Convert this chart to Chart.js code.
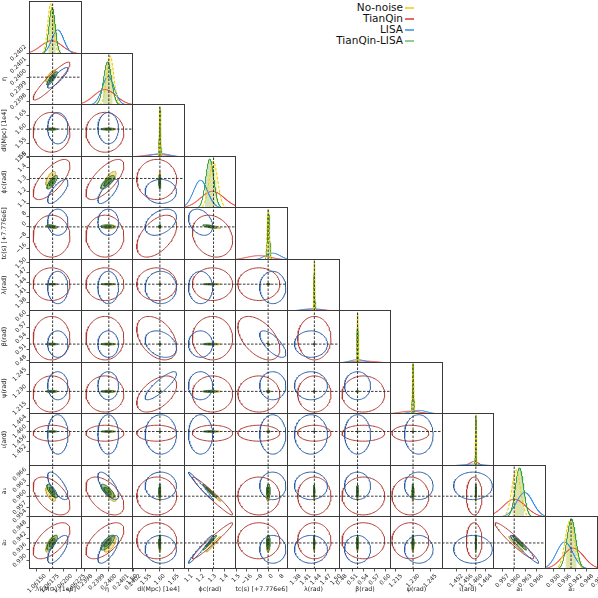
<!DOCTYPE html>
<html>
<head>
<meta charset="utf-8">
<script src="https://cdn.jsdelivr.net/npm/chart.js@4.4.0/dist/chart.umd.min.js"></script>
<style>
  html, body { margin: 0; padding: 0; background: #fff; }
  #fig { position: relative; width: 598px; height: 598px; overflow: hidden; font-family: "DejaVu Sans"; }
  #fig canvas { position: absolute; }
  .lgt { position: absolute; font-size: 10.5px; color: #111; text-align: right; white-space: nowrap; line-height: 11px; }
  .lgl { position: absolute; height: 0; }
</style>
</head>
<body>
<div id="fig"></div>
<script>
// parameter names, truth values and axis ranges
const names = ['ℳ(M⊙) [1e6]', 'η', 'dl(Mpc) [1e4]', 'ϕc(rad)', 'tc(s) [+7.776e6]', 'λ(rad)',
               'β(rad)', 'ψ(rad)', 'ι(ard)', 'a₁', 'a₂'];
const truth = [1.0618, 0.2400, 1.600, 1.310, 0, 1.436, 0.524, 1.230, 1.460, 0.9601, 0.9395];
const lows  = [1.06135, 0.23977, 1.500, 1.060, -25, 1.355, 0.473, 1.210, 1.446, 0.9545, 0.9255];
const highs = [1.06236, 0.24020, 1.690, 1.500, 15, 1.512, 0.616, 1.256, 1.4675, 0.9685, 0.9540];

const tickVals = [
  [1.0615, 1.06175, 1.062, 1.06225],
  [0.2398, 0.2399, 0.2400, 0.2401, 0.2402],
  [1.50, 1.55, 1.60, 1.65],
  [1.1, 1.2, 1.3, 1.4, 1.5],
  [-16, -8, 0, 8],
  [1.38, 1.41, 1.44, 1.47, 1.50],
  [0.48, 0.51, 0.54, 0.57, 0.60],
  [1.215, 1.230, 1.245],
  [1.452, 1.456, 1.460, 1.464],
  [0.957, 0.960, 0.963, 0.966],
  [0.930, 0.936, 0.942, 0.948, 0.954]
];
const tickText = [
  ['1.06150', '1.06175', '1.06200', '1.06225'],
  ['0.2398', '0.2399', '0.2400', '0.2401', '0.2402'],
  ['1.50', '1.55', '1.60', '1.65'],
  ['1.1', '1.2', '1.3', '1.4', '1.5'],
  ['−16', '−8', '0', '8'],
  ['1.38', '1.41', '1.44', '1.47', '1.50'],
  ['0.48', '0.51', '0.54', '0.57', '0.60'],
  ['1.215', '1.230', '1.245'],
  ['1.452', '1.456', '1.460', '1.464'],
  ['0.957', '0.960', '0.963', '0.966'],
  ['0.930', '0.936', '0.942', '0.948', '0.954']
];

// posterior summaries (mean, sigma per parameter)
const tqMean    = [1.06178, 0.239968, 1.5886, 1.301, -7, 1.436, 0.540, 1.2277, 1.4593, 0.96016, 0.94068];
const tqSigma   = [2.06e-4, 9.2e-5, 0.042, 0.10, 9.3, 0.029, 0.0345, 0.0094, 0.0019, 0.0030, 0.0057];
const lisaMean  = [1.061899, 0.239995, 1.6033, 1.200, 3.5, 1.426, 0.524, 1.235, 1.4588, 0.96288, 0.93608];
const lisaSigma = [1.14e-4, 5.0e-5, 0.033, 0.060, 5.8, 0.0287, 0.021, 0.0073, 0.0047, 0.00218, 0.0044];
const tlMean    = [1.061791, 0.239990, 1.600, 1.278, 0.3, 1.436, 0.524, 1.230, 1.460, 0.9615, 0.9397];
const tlSigma   = [5.9e-5, 3.3e-5, 0.0022, 0.034, 0.8, 0.0012, 0.0014, 0.00054, 0.00017, 0.00109, 0.00238];
const nnMean    = [1.061762, 0.240012, 1.600, 1.309, 0, 1.436, 0.524, 1.230, 1.460, 0.96062, 0.9388];
const nnSigma   = [5.5e-5, 2.9e-5, 0.0022, 0.036, 0.8, 0.0012, 0.0014, 0.00054, 0.00017, 0.00114, 0.00249];

// correlations: [param a, param b, TianQin, LISA, TianQin-LISA, No-noise]
const corrs = [
  [0, 1, 0.92, 0.88, 0.88, 0.85],
  [0, 3, 0.70, 0.75, 0.80, 0.70],
  [1, 3, 0.70, 0.75, 0.80, 0.70],
  [0, 9, -0.50, -0.70, -0.75, -0.70],
  [1, 9, -0.50, -0.70, -0.75, -0.70],
  [0, 10, 0.60, 0.70, 0.75, 0.70],
  [1, 10, 0.60, 0.70, 0.75, 0.70],
  [3, 9, -0.97, -0.98, -0.98, -0.98],
  [3, 10, 0.97, 0.98, 0.98, 0.98],
  [9, 10, -0.95, -0.96, -0.96, -0.96],
  [2, 7, 0.50, 0.85, 0.90, 0.90],
  [2, 4, 0.50, 0.40, 0.0, 0.0],
  [3, 4, -0.20, -0.30, -0.70, -0.70],
  [0, 4, 0.0, 0.0, -0.50, -0.50],
  [4, 6, -0.50, -0.70, -0.90, -0.90],
  [2, 6, -0.40, -0.30, 0.0, 0.0]
];

const legendNames  = ['No-noise', 'TianQin', 'LISA', 'TianQin-LISA'];
const legendColors = ['#f2d84a', '#e06a66', '#66aaee', '#8fcf8f'];

const N = 11, FIG = 598, X0 = 29, Y0 = 1, PW = 51.6, PH = 51.5, MARGIN = 14;
const FONT = 'DejaVu Sans', TICK_SIZE = 5.8, TITLE_SIZE = 6.3;
const LEVEL = 1.7, INNER = 0.95;
const fig = document.getElementById('fig');

const mctx = document.createElement('canvas').getContext('2d');
function textW(s, size) { mctx.font = size + 'px "' + FONT + '"'; return mctx.measureText(s).width; }

function rho(a, b, col) {
  const lo = Math.min(a, b), hi = Math.max(a, b);
  const row = corrs.find(c => c[0] === lo && c[1] === hi);
  return row ? row[2 + col] : 0;
}

function ellipse(mx, my, sx, sy, r, k) {
  const pts = [], q = Math.sqrt(1 - r * r);
  for (let n = 0; n <= 90; n++) {
    const a = 2 * Math.PI * n / 90, c = Math.cos(a), s = Math.sin(a);
    pts.push({ x: mx + k * sx * c, y: my + k * sy * (r * c + q * s) });
  }
  return pts;
}

function pdf(m, s, lo, hi, from, to) {
  const pts = [], n = 500;
  for (let i = 0; i <= n; i++) {
    const x = lo + (hi - lo) * i / n;
    if (x < from || x > to) continue;
    pts.push({ x, y: Math.exp(-0.5 * ((x - m) / s) ** 2) / (s * Math.sqrt(2 * Math.PI)) });
  }
  return pts;
}

function line(data, color, width, extra) {
  return Object.assign({ data, borderColor: color, borderWidth: width, pointRadius: 0,
    fill: false, tension: 0, clip: 0 }, extra || {});
}

const boxPlugin = {
  id: 'box',
  afterDatasetsDraw(chart) {
    const a = chart.chartArea, c = chart.ctx;
    c.save();
    c.strokeStyle = '#3a3a3a';
    c.lineWidth = 1;
    c.strokeRect(Math.round(a.left) + 0.5, Math.round(a.top) + 0.5,
                 Math.round(a.right - a.left) - 1, Math.round(a.bottom - a.top) - 1);
    c.restore();
  }
};

function axisOpts(k, horizontal, show, size, min, max) {
  const o = { type: 'linear', min, max, display: show };
  if (!show) return o;
  const maxW = Math.max(...tickText[k].map(s => textW(s, TICK_SIZE)));
  return Object.assign(o, {
    afterBuildTicks: s => {
      s.ticks = tickVals[k].filter(v => v >= min - 1e-12 && v <= max + 1e-12).map(v => ({ value: v }));
    },
    afterFit: s => {
      if (horizontal) s.height = size; else s.width = size;
      s.paddingLeft = s.paddingRight = s.paddingTop = s.paddingBottom = 0;
    },
    ticks: {
      autoSkip: false, minRotation: 45, maxRotation: 45, padding: 1, color: '#222',
      font: { family: FONT, size: TICK_SIZE },
      labelOffset: horizontal ? 0.35 * maxW : -0.35 * maxW,
      callback: v => {
        const n = tickVals[k].findIndex(t => Math.abs(t - v) < 1e-9);
        return n < 0 ? '' : tickText[k][n];
      }
    },
    grid: { drawOnChartArea: false, drawTicks: true, tickLength: 2.5, color: '#333', lineWidth: 0.8 },
    border: { display: false },
    title: { display: true, text: names[k], color: '#222', font: { family: FONT, size: TITLE_SIZE },
      padding: horizontal ? { top: 0, bottom: 5 } : { top: 1, bottom: 0 } }
  });
}

function addPanel(i, j, datasets, yMin, yMax) {
  const l = Math.round(X0 + j * PW), r = Math.round(X0 + (j + 1) * PW);
  const t = Math.round(Y0 + i * PH), b = Math.round(Y0 + (i + 1) * PH);
  const showY = j === 0 && i > 0, showX = i === N - 1;
  const axisL = showY ? l : 0, padL = showY ? 0 : MARGIN;
  const axisB = showX ? FIG - (b + 1) : 0, padB = showX ? 0 : MARGIN;
  const w = axisL + padL + (r - l + 1) + MARGIN;
  const h = MARGIN + (b - t + 1) + padB + axisB;
  const cv = document.createElement('canvas');
  cv.width = w; cv.height = h;
  cv.style.width = w + 'px'; cv.style.height = h + 'px';
  cv.style.left = (l - axisL - padL) + 'px';
  cv.style.top = (t - MARGIN) + 'px';
  fig.appendChild(cv);
  new Chart(cv, {
    type: 'line',
    data: { datasets },
    options: {
      responsive: false, animation: false, devicePixelRatio: 1,
      layout: { padding: { left: padL, right: MARGIN, top: MARGIN, bottom: padB } },
      plugins: { legend: { display: false }, tooltip: { enabled: false } },
      scales: {
        x: axisOpts(j, true, showX, axisB, lows[j], highs[j]),
        y: i === j ? { type: 'linear', min: yMin, max: yMax, display: false }
                   : axisOpts(i, false, showY, axisL, lows[i], highs[i])
      }
    },
    plugins: [boxPlugin]
  });
}

const means = [tqMean, lisaMean, tlMean, nnMean];
const sigmas = [tqSigma, lisaSigma, tlSigma, nnSigma];

for (let i = 0; i < N; i++) {
  for (let j = 0; j <= i; j++) {
    if (i === j) {
      const lo = lows[i], hi = highs[i];
      const curves = means.map((m, s) => pdf(m[i], sigmas[s][i], lo, hi, lo, hi));
      const top = Math.max(...curves.map(c => Math.max(...c.map(p => p.y)))) * 1.06;
      const tlBand = pdf(tlMean[i], tlSigma[i], lo, hi, tlMean[i] - 1.2 * tlSigma[i], tlMean[i] + 1.2 * tlSigma[i]);
      const nnBand = pdf(nnMean[i], nnSigma[i], lo, hi, nnMean[i] - 1.0 * nnSigma[i], nnMean[i] + 1.0 * nnSigma[i]);
      const ds = [
        line(tlBand, 'rgba(0,0,0,0)', 0, { fill: 'origin', backgroundColor: 'rgba(140,185,90,0.38)', order: 9 }),
        line(nnBand, 'rgba(0,0,0,0)', 0, { fill: 'origin', backgroundColor: 'rgba(240,225,130,0.40)', order: 8 }),
        line(curves[0], '#e84a3f', 1, { order: 5 }),
        line(curves[1], '#3c8ee6', 1, { order: 4 }),
        line(curves[2], '#3aa23a', 1, { order: 3 }),
        line(curves[3], '#f2d000', 1.1, { borderDash: [3, 1.5], order: 2 }),
        line([{ x: truth[i], y: 0 }, { x: truth[i], y: top }], '#222', 0.9, { borderDash: [2.5, 1.5], order: 1 })
      ];
      addPanel(i, j, ds, 0, top);
    } else {
      const ell = (s, k) => ellipse(means[s][j], means[s][i], sigmas[s][j], sigmas[s][i], rho(i, j, s), k);
      const ds = [
        line(ell(3, LEVEL), 'rgba(190,160,20,0.9)', 0.7, { fill: 'shape', backgroundColor: 'rgba(232,200,60,0.5)', order: 7 }),
        line(ell(2, LEVEL), '#2e6a2e', 0.8, { fill: 'shape', backgroundColor: 'rgba(110,160,70,0.6)', order: 6 }),
        line(ell(2, INNER), '#245a24', 0.6, { fill: 'shape', backgroundColor: 'rgba(50,105,40,0.55)', order: 5 }),
        line(ell(0, LEVEL), '#b03a32', 1, { order: 4 }),
        line(ell(1, LEVEL), '#2c5ea6', 1, { order: 3 }),
        line([{ x: truth[j], y: lows[i] }, { x: truth[j], y: highs[i] }], '#222', 0.9, { borderDash: [2.5, 1.5], order: 1 }),
        line([{ x: lows[j], y: truth[i] }, { x: highs[j], y: truth[i] }], '#222', 0.9, { borderDash: [2.5, 1.5], order: 0 })
      ];
      addPanel(i, j, ds, 0, 1);
    }
  }
}

// legend
legendNames.forEach((name, n) => {
  const y = 8 + n * 11;
  const tx = document.createElement('div');
  tx.className = 'lgt';
  tx.textContent = name;
  tx.style.right = (FIG - 403) + 'px';
  tx.style.top = (y - 6) + 'px';
  fig.appendChild(tx);
  const ln = document.createElement('div');
  ln.className = 'lgl';
  ln.style.left = '405px';
  ln.style.width = '9px';
  ln.style.top = (y - 1) + 'px';
  ln.style.borderTop = '2px ' + (n === 0 ? 'dashed ' : 'solid ') + legendColors[n];
  fig.appendChild(ln);
});
</script>
</body>
</html>
